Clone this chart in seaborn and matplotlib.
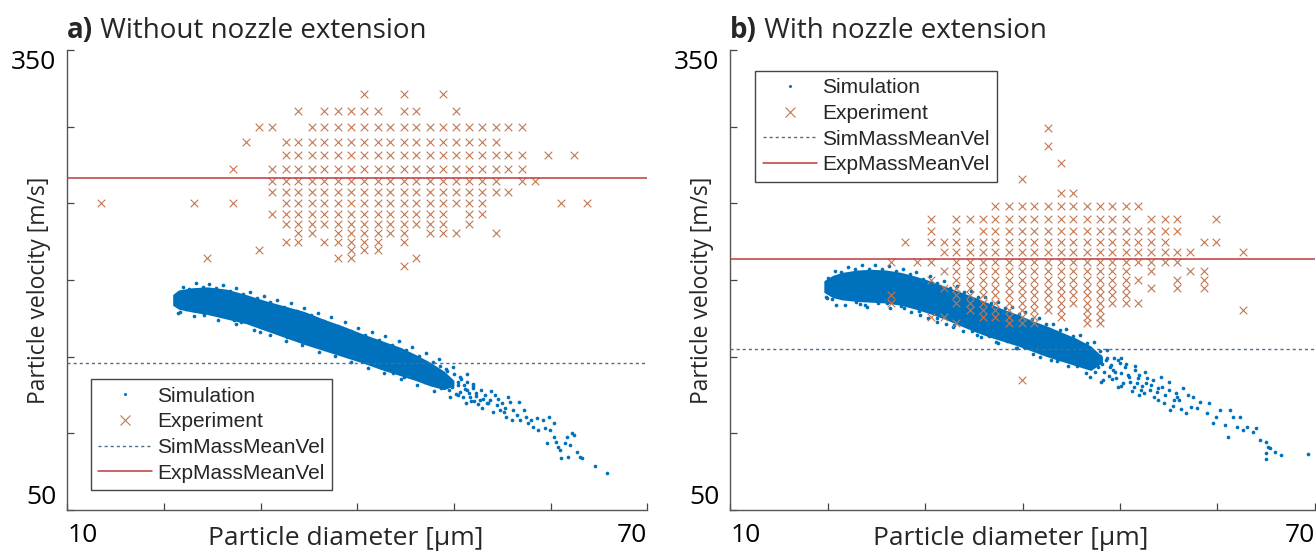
import numpy as np
import pandas as pd
import seaborn as sns
import matplotlib.pyplot as plt
from matplotlib.lines import Line2D

# ---------------- a) without nozzle extension ----------------
# experiment: diameter bins [um], velocity rows [m/s], 'x' = detected bin
exp_a_diam = [13.5, 14.9, 16.3, 17.6, 19.0, 20.3, 21.7, 23.1, 24.4, 25.8,
              27.1, 28.5, 29.8, 31.2, 32.6, 33.9, 35.3, 36.6, 38.0, 39.3,
              40.7, 42.1, 43.4, 44.8, 46.1, 47.5, 48.9, 50.2, 51.6, 52.9,
              54.3, 55.6, 57.0, 58.4, 59.7, 61.1, 62.4, 63.8]
exp_a_vel = [321.4, 310.3, 300.0, 290.3, 281.3, 272.7, 264.7, 257.1,
             250.0, 243.2, 236.8, 230.8, 225.0, 219.5, 214.3, 209.3]
exp_a_mask = [
    "..........|..........|x..x..x...|........",
    "..........|.....x.xxx|xx.xx..x..|........",
    "..........|..xx..xxxx|xxxxxxxxxx|xxx.....",
    "..........|.x..xxxxxx|xxxxxxxxxx|x.......",
    "..........|....xxxxxx|xxxxxxxxxx|xxx.x.x.",
    "..........|x..xxxxxxx|xxxxxxxxxx|xxx.....",
    "..........|...xxxxxxx|xxxxxxxxxx|x.xx....",
    "..........|...xxxxxxx|xxxxxxxxxx|xx......",
    "x......x..|x...xxxxxx|xxxxxxxxxx|.....x.x",
    "..........|...xxxxxxx|xxxxxxx.xx|........",
    "..........|....xxxxxx|xxxxxxx.x.|........",
    "..........|.....xx.xx|xxxx.xxx..|x.......",
    "..........|....xx.xxx|xx.x......|........",
    "..........|..x......x|xx........|........",
    "........x.|........xx|....x.....|........",
    "..........|..........|...x......|........",
]

# simulation: dense core band (lower / upper edge) plus single particles
sim_a_core_d = [20.9, 21.5, 23.0, 24.5, 26.5, 28.5, 30.5, 32.5, 34.5, 36.5,
                38.5, 40.5, 42.5, 44.5, 46.0, 47.5, 49.0, 50.0]
sim_a_core_hi = [190.5, 193.5, 195.0, 195.5, 194.0, 190.5, 186.5, 183.0, 179.5, 174.5,
                 170.0, 165.0, 160.5, 156.0, 151.5, 146.5, 140.5, 134.5]
sim_a_core_lo = [183.5, 181.0, 179.0, 177.5, 174.5, 171.5, 167.0, 162.5, 158.0, 154.0,
                 150.0, 146.0, 141.5, 137.5, 134.5, 131.0, 128.5, 131.0]
sim_a_top_d = [21.3, 22.0, 22.6, 23.3, 24.0, 24.7, 25.4, 26.1, 26.8, 27.5, 28.2, 28.9,
               29.6, 30.3, 31.0, 31.7, 32.4, 33.1, 33.8, 34.5, 35.2, 35.9, 36.6, 37.3,
               38.0, 38.7, 39.4, 40.1, 40.8, 41.5, 42.2, 42.9, 43.6, 44.3, 45.0, 45.7,
               46.4, 47.1, 47.8, 48.5, 49.2, 49.9, 50.6, 51.3, 52.0]
sim_a_top_v = [191.0, 195.6, 194.2, 197.8, 195.5, 197.4, 195.0, 196.8, 193.1, 194.9, 190.6, 192.3,
               188.0, 189.6, 185.4, 186.9, 182.6, 184.7, 180.0, 181.9, 177.2, 178.8, 173.4, 175.6,
               170.2, 172.5, 167.0, 168.9, 164.0, 166.1, 160.7, 163.2, 157.6, 159.9, 154.6, 156.3,
               150.5, 152.2, 146.3, 148.2, 141.7, 143.5, 136.9, 138.5, 132.0]
sim_a_bot_d = [21.5, 22.3, 23.1, 23.9, 25.6, 26.4, 27.5, 28.6, 29.3, 30.1, 31.0, 31.8,
               32.6, 33.5, 34.3, 35.2, 36.0, 36.9, 37.7, 38.6, 39.4, 40.3, 41.1, 42.0,
               42.8, 43.6, 44.5, 45.3, 46.2, 47.0, 47.9, 48.7, 49.6, 50.4, 51.2, 52.1]
sim_a_bot_v = [178.6, 181.2, 176.5, 179.0, 174.1, 176.8, 171.6, 173.2, 167.4, 169.5, 164.3, 166.0,
               160.2, 162.4, 157.3, 158.6, 152.9, 155.4, 150.2, 151.9, 146.8, 148.8, 142.9, 145.2,
               139.1, 141.4, 135.6, 137.6, 131.5, 133.6, 127.4, 129.8, 123.6, 125.3, 119.5, 121.4]
sim_a_d = [21.7, 24.1, 24.8, 27.2, 28.0, 29.9, 32.7, 34.8, 36.8, 38.9, 41.0, 43.7, 44.8,
           46.2, 46.5, 46.8, 47.0, 47.3, 47.5, 47.8, 48.0, 48.2, 48.4, 48.6, 48.9,
           49.1, 49.3, 49.5, 49.7, 50.0, 50.2, 50.4, 50.7, 50.9, 51.1, 51.3, 51.6,
           51.8, 52.0, 52.3, 52.5, 52.8, 53.0, 53.5, 53.8, 54.0, 54.6, 55.2, 55.6,
           49.4, 49.8, 50.4, 50.6, 51.0, 51.4, 51.7, 52.0, 52.3, 52.7, 52.9, 53.2,
           53.4, 53.7, 54.2, 54.4, 54.8, 55.0, 55.3, 55.4, 55.8, 56.0, 56.1, 56.5,
           56.7, 56.8, 57.2, 57.5, 57.7, 58.0, 58.2, 58.6, 58.7, 59.2, 59.4, 59.6,
           59.8, 59.9, 60.3, 60.4, 60.6, 60.8, 61.0, 61.1, 61.5, 61.7, 61.8, 62.0,
           62.2, 62.4, 62.7, 63.0, 63.2, 64.6, 65.8]
sim_a_v = [179.3, 177.2, 178.2, 173.9, 172.8, 166.3, 163.0, 160.8, 157.6, 153.2, 147.8, 139.1, 136.9,
           145.5, 141.2, 137.9, 146.8, 139.4, 143.6, 135.2, 141.0, 132.7, 138.4, 144.1, 130.2,
           136.0, 140.9, 128.4, 133.8, 138.9, 125.6, 131.3, 135.7, 123.4, 129.0, 133.4, 126.5,
           120.8, 131.0, 124.1, 118.9, 128.0, 122.3, 120.0, 127.3, 113.8, 122.7, 113.6, 124.0,
           134.8, 130.4, 133.7, 127.2, 131.5, 128.3, 123.9, 129.3, 126.1, 121.7, 116.3, 125.0,
           119.6, 121.7, 125.0, 118.5, 115.2, 119.6, 116.3, 110.9, 120.6, 108.7, 115.2, 111.9,
           120.6, 108.7, 115.2, 110.9, 106.5, 108.7, 104.3, 109.8, 102.2, 108.7, 103.2, 93.5,
           110.9, 102.2, 106.5, 97.8, 94.5, 91.3, 89.1, 83.7, 93.5, 97.8, 84.8, 92.4,
           100.0, 98.9, 88.0, 84.8, 83.7, 78.7, 74.0]
sim_mean_a = 146.0
exp_mean_a = 266.7

# ---------------- b) with nozzle extension ----------------
exp_b_diam = [26.5, 27.9, 29.2, 30.6, 31.9, 33.2, 34.6, 35.9, 37.2, 38.6,
              39.9, 41.2, 42.6, 43.9, 45.2, 46.6, 47.9, 49.2, 50.6, 51.9,
              53.2, 54.6, 55.9, 57.2, 58.6, 59.9, 61.2, 62.6]
exp_b_vel = [298.9, 287.1, 276.2, 266.1, 256.8, 248.0, 239.9, 232.2, 225.0, 218.3,
             212.0, 206.0, 200.3, 194.9, 189.9, 185.0, 180.5, 176.1, 172.0, 134.5]
exp_b_mask = [
    "..........|..x.......|........",
    "..........|..x.......|........",
    "..........|...x......|........",
    "..........|x.........|........",
    "..........|...xx.....|........",
    "........xx|xxxxxxxxxx|........",
    "...x.xxxxx|xxxxxxxxx.|xxx..x..",
    "...x.x.xxx|xxxxxxxxxx|xxx.....",
    ".x.xxxxxxx|xxxxxxxxxx|xx..xx..",
    "....xxxxxx|xxxxxxxxxx|xxxx...x",
    "x.xx.xxxxx|xxxxxxxxxx|xxx.....",
    "....xxxxxx|xxxxxxxxx.|x..xx...",
    "...x.xxxxx|xxxxxxxxxx|..x.x...",
    "....xxxxxx|xxxxxxxxx.|x.x.x...",
    "x....xxxxx|xxxxxxxxx.|........",
    "x....xxxxx|xxxxxxxxxx|........",
    "......xxxx|xxxx.xx...|.......x",
    "...xx..xxx|xx.x.xx...|........",
    ".....x...x|xx...xx...|........",
    "..........|x.........|........",
]

sim_b_core_d = [19.6, 20.5, 21.5, 23.0, 24.5, 26.0, 27.5, 29.0, 30.5, 32.0, 33.5,
                35.0, 36.5, 38.0, 39.5, 41.0, 42.5, 44.0, 45.5, 47.0, 48.2]
sim_b_core_hi = [199.5, 203.0, 205.0, 206.5, 207.0, 206.5, 205.0, 202.5, 199.5, 196.0, 192.5,
                 189.0, 185.0, 181.0, 177.5, 173.5, 170.0, 166.0, 162.0, 157.0, 150.0]
sim_b_core_lo = [192.0, 188.5, 187.0, 186.0, 185.5, 185.0, 183.5, 181.0, 178.0, 174.5, 170.5,
                 166.5, 163.0, 160.0, 157.0, 153.5, 150.0, 147.0, 144.0, 141.0, 146.0]
sim_b_top_d = [20.0, 20.7, 21.4, 22.1, 22.8, 23.5, 24.2, 24.9, 25.6, 26.3, 27.0, 27.7,
               28.4, 29.1, 29.8, 30.5, 31.2, 31.9, 32.6, 33.3, 34.0, 34.7, 35.4, 36.1,
               36.8, 37.5, 38.2, 38.9, 39.6, 40.3, 41.0, 41.7, 42.4, 43.1, 43.8, 44.5,
               45.2, 45.9, 46.6, 47.3, 48.0, 48.7, 49.4, 50.1]
sim_b_top_v = [201.6, 206.0, 205.0, 208.6, 206.9, 209.5, 207.3, 209.7, 207.1, 209.0, 206.0, 207.2,
               203.6, 205.3, 200.9, 202.6, 198.0, 199.4, 195.1, 195.8, 191.9, 192.5, 188.6, 189.0,
               185.1, 185.7, 181.5, 182.6, 177.8, 179.0, 174.4, 175.4, 171.1, 171.6, 167.5, 168.0,
               163.6, 164.1, 159.0, 159.6, 153.8, 154.6, 148.9, 149.0]
sim_b_bot_d = [19.8, 20.4, 21.8, 22.9, 24.0, 25.2, 26.4, 27.5, 28.5, 29.4, 30.3, 31.2,
               32.1, 33.0, 33.9, 34.8, 35.7, 36.6, 37.5, 38.4, 39.3, 40.2, 41.1, 42.0,
               42.9, 43.8, 44.7, 45.6, 46.5, 47.4, 48.3, 49.2, 50.1]
sim_b_bot_v = [189.0, 187.9, 183.6, 185.4, 182.6, 184.7, 182.0, 183.1, 179.0, 179.6, 175.4, 175.3,
               171.0, 170.9, 166.9, 167.0, 163.0, 163.2, 159.1, 160.0, 155.7, 156.4, 151.6, 152.4,
               147.5, 148.4, 144.1, 144.2, 139.6, 139.7, 135.0, 135.5, 131.0]
sim_b_d = [19.9, 20.8, 23.3, 23.8, 26.1, 27.8, 29.5, 31.2, 32.9, 35.3, 37.3, 39.4, 41.8, 43.5,
           47.2, 47.5, 47.7, 48.0, 48.2, 48.4, 48.7, 48.9, 49.1, 49.3, 49.6, 49.8,
           50.1, 50.3, 50.6, 50.9, 51.2, 51.5, 51.7, 52.0, 52.3, 52.5, 52.8, 53.2,
           53.5, 53.9, 54.2, 54.5, 55.0, 55.4, 55.9, 56.3, 57.0,
           46.9, 48.1, 48.6, 49.0, 49.5, 50.0, 49.8, 50.5, 50.8, 51.0, 51.4, 51.5,
           51.9, 52.2, 52.0, 52.6, 52.7, 53.1, 53.4, 53.8, 53.9, 54.3, 54.6, 55.0,
           55.1, 55.5, 55.8, 56.1, 56.5, 56.8, 57.3, 57.5, 57.9, 58.2, 58.9, 59.1,
           59.6, 59.9, 60.3, 60.8, 61.1, 61.3, 61.6, 62.0, 62.3, 62.6, 63.0, 63.7,
           64.0, 64.4, 65.0, 65.2, 65.0, 65.4, 65.9, 66.5, 65.0, 69.3]
sim_b_v = [188.0, 183.7, 184.1, 183.7, 184.8, 181.5, 177.2, 172.8, 169.6, 164.1, 159.8, 155.4, 150.0, 147.2,
           152.5, 147.0, 143.2, 150.3, 145.1, 139.8, 148.9, 137.3, 144.5, 141.6, 135.9, 147.7,
           139.3, 133.1, 145.0, 136.6, 127.5, 143.8, 132.9, 138.2, 130.8, 126.4, 136.0, 131.4,
           124.0, 129.7, 136.8, 119.6, 128.5, 117.9, 123.4, 115.6, 125.0,
           136.9, 133.6, 147.8, 143.4, 140.2, 145.6, 130.4, 143.4, 138.0, 133.6, 130.4, 141.2,
           135.8, 128.2, 124.9, 140.2, 132.5, 128.2, 134.7, 127.1, 121.7, 130.4, 124.9, 133.6,
           115.2, 121.7, 126.0, 121.7, 129.3, 113.0, 117.3, 123.9, 116.3, 120.6, 113.0, 119.5,
           106.5, 110.8, 115.2, 105.4, 97.8, 115.2, 110.8, 104.3, 110.8, 102.1, 104.3, 101.0,
           103.2, 95.6, 94.5, 91.3, 86.9, 90.2, 88.0, 85.8, 83.0, 86.2]
sim_mean_b = 154.8
exp_mean_b = 213.5

sim_color = "#0072BD"
exp_color = "#C27650"
exp_line_color = "#BF3B3B"
sim_line_color = "#4E6E86"


def grid_points(diams, vels, mask):
    rows = []
    for v, line in zip(vels, mask):
        for d, c in zip(diams, line.replace("|", "")):
            if c == "x":
                rows.append((d, v))
    return pd.DataFrame(rows, columns=["diameter", "velocity"])


sns.set_style("ticks")
plt.rcParams["font.family"] = ["Open Sans", "DejaVu Sans"]

fig = plt.figure(figsize=(13.16, 5.54), dpi=100)
ax_a = fig.add_axes([67.3 / 1316, 1 - 510 / 554, 580 / 1316, 460 / 554])
ax_b = fig.add_axes([730.3 / 1316, 1 - 510 / 554, 584.5 / 1316, 460 / 554])

panels = [
    (ax_a, "a)", " Without nozzle extension", exp_a_diam, exp_a_vel, exp_a_mask,
     sim_a_core_d, sim_a_core_lo, sim_a_core_hi,
     sim_a_d + sim_a_top_d + sim_a_bot_d, sim_a_v + sim_a_top_v + sim_a_bot_v,
     sim_mean_a, exp_mean_a, (0.04, 0.284)),
    (ax_b, "b)", " With nozzle extension", exp_b_diam, exp_b_vel, exp_b_mask,
     sim_b_core_d, sim_b_core_lo, sim_b_core_hi,
     sim_b_d + sim_b_top_d + sim_b_bot_d, sim_b_v + sim_b_top_v + sim_b_bot_v,
     sim_mean_b, exp_mean_b, (0.043, 0.954)),
]

for (ax, tag, title, ed, ev, em, cd, clo, chi, sd, sv, smean, emean, leg_pos) in panels:
    # simulation cloud
    ax.fill_between(cd, clo, chi, color=sim_color, lw=0, zorder=2)
    sim = pd.DataFrame({"diameter": sd, "velocity": sv})
    sns.scatterplot(data=sim, x="diameter", y="velocity", ax=ax, color=sim_color,
                    s=7, linewidth=0, zorder=3)
    # experiment grid
    exp = grid_points(ed, ev, em)
    sns.scatterplot(data=exp, x="diameter", y="velocity", ax=ax, marker="x",
                    color=exp_color, s=30, linewidth=0.8, zorder=4)
    ax.axhline(smean, color=sim_line_color, lw=1.0, ls=(0, (2.2, 2.2)), zorder=5)
    ax.axhline(emean, color=exp_line_color, lw=1.1, zorder=5)

    ax.set_xlim(10, 70)
    ax.set_ylim(50, 350)
    ax.set_xticks([10, 20, 30, 40, 50, 60, 70])
    ax.set_xticklabels(["10", "", "", "", "", "", "70"])
    ax.set_yticks([50, 100, 150, 200, 250, 300, 350])
    ax.set_yticklabels(["50", "", "", "", "", "", "350"])
    ax.tick_params(direction="in", length=5, width=0.9, colors="#444444",
                   labelsize=19, labelcolor="black")
    ax.tick_params(axis="x", pad=9)
    ax.tick_params(axis="y", pad=8)
    xl = ax.get_xticklabels()
    xl[0].set_ha("left")
    xl[-1].set_ha("right")
    yl = ax.get_yticklabels()
    yl[0].set_va("bottom")
    yl[-1].set_va("top")
    sns.despine(ax=ax)
    for sp in ["left", "bottom"]:
        ax.spines[sp].set_color("#555555")
        ax.spines[sp].set_linewidth(1.0)

    ax.set_xlabel("Particle diameter [µm]", fontsize=19)
    ax.set_ylabel("Particle velocity [m/s]", fontsize=16.5)
    ax.xaxis.set_label_coords(0.48, -0.035)
    ax.yaxis.set_label_coords(-0.028, 0.478)

    t = ax.text(0, 1.027, tag, transform=ax.transAxes, fontsize=20,
                fontweight="bold", va="baseline", ha="left")
    ax.annotate(title, xy=(1, 0), xycoords=t, fontsize=20, va="bottom", ha="left")

    handles = [
        Line2D([], [], ls="none", marker="o", ms=2.2, mfc=sim_color, mec="none"),
        Line2D([], [], ls="none", marker="x", ms=6.5, mew=0.8, color=exp_color),
        Line2D([], [], color=sim_line_color, lw=1.0, ls=(0, (2.2, 2.2))),
        Line2D([], [], color=exp_line_color, lw=1.1),
    ]
    ax.legend(handles, ["Simulation", "Experiment", "SimMassMeanVel", "ExpMassMeanVel"],
              loc="upper left", bbox_to_anchor=leg_pos, frameon=True, fancybox=False,
              edgecolor="#444444", framealpha=1, borderpad=0.35, handlelength=2.6,
              handletextpad=0.25, labelspacing=0.32, borderaxespad=0,
              prop={"family": "Liberation Sans", "size": 15})

fig.savefig("out.png", dpi=100)
